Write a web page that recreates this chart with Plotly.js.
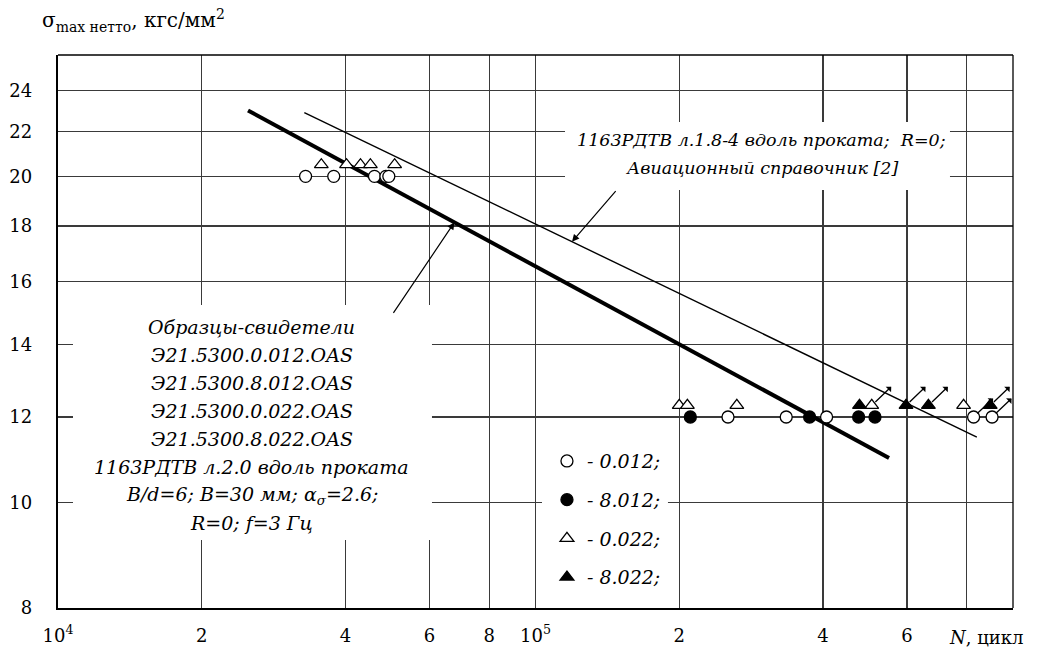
<!DOCTYPE html>
<html><head><meta charset="utf-8">
<script src="https://cdn.plot.ly/plotly-3.0.1.min.js"></script>
<style>html,body{margin:0;padding:0;background:#fff}#chart{width:1054px;height:649px}</style>
</head><body><div id="chart"></div>
<script>
// ---- data (N, cycles ; sigma max net, kgf/mm2) ----
const circOpenN  = [3.30e4, 3.78e4, 4.60e4, 4.86e4, 4.93e4, 2.53e5, 3.35e5, 4.07e5, 8.27e5, 9.04e5];
const circOpenS  = [20, 20, 20, 20, 20, 12, 12, 12, 12, 12];
const circOpenRun = [0, 0, 0, 0, 0, 0, 0, 0, 1, 1];

const circFillN  = [2.11e5, 3.75e5, 4.75e5, 5.14e5];
const circFillS  = [12, 12, 12, 12];
const circFillRun = [0, 0, 0, 0];

const triOpenN   = [3.56e4, 4.02e4, 4.30e4, 4.51e4, 5.07e4, 2.00e5, 2.08e5, 2.64e5, 5.06e5, 7.88e5];
const triOpenS   = [20.5, 20.5, 20.5, 20.5, 20.5, 12.3, 12.3, 12.3, 12.3, 12.3];
const triOpenRun = [0, 0, 0, 0, 0, 0, 0, 0, 1, 0];

const triFillN   = [4.77e5, 5.97e5, 6.65e5, 8.96e5];
const triFillS   = [12.3, 12.3, 12.3, 12.3];
const triFillRun = [0, 1, 1, 1];

const seriesNames = ['- 0.012;', '- 8.012;', '- 0.022;', '- 8.022;'];

// fatigue curves
const samplesLineN  = [2.5e4, 5.5e5];
const samplesLineS  = [23, 11];
const handbookLineN = [3.28e4, 8.4e5];
const handbookLineS = [22.9, 11.5];

// axes
const xTickVals = [1e4, 2e4, 4e4, 6e4, 8e4, 1e5, 2e5, 4e5, 6e5, 8e5];
const xTickText = ['10<sup>4</sup>', '2', '4', '6', '8', '10<sup>5</sup>', '2', '4', '6', ''];
const yTickVals = [8, 10, 12, 14, 16, 18, 20, 22, 24];
const yTickText = ['8', '10', '12', '14', '16', '18', '20', '22', '24'];

const textSamplesLines = ['Образцы-свидетели', 'Э21.5300.0.012.OAS', 'Э21.5300.8.012.OAS',
  'Э21.5300.0.022.OAS', 'Э21.5300.8.022.OAS', '1163РДТВ л.2.0 вдоль проката',
  'B/d=6; B=30 мм; α<sub>σ</sub>=2.6;', 'R=0; f=3 Гц'];
const textHandbookLines = ['1163РДТВ л.1.8-4 вдоль проката;  R=0;', 'Авиационный справочник [2]'];

// ---- build ----
const FONT = 'DejaVu Serif';
const L = Math.log10;
const PLOT_T = 55, PLOT_H = 553;
const py = (px) => (PLOT_T + PLOT_H - px) / PLOT_H;   // pixel row -> paper y

function markerTrace(N, S, name, symbol, fill, group) {
  return {
    x: N, y: S, type: 'scatter', mode: 'markers', name: name,
    legendgroup: group,
    marker: {symbol: symbol, size: 12, color: fill, line: {color: '#000', width: 1.3}},
    hoverinfo: 'x+y'
  };
}
function lineTrace(N, S, w) {
  return {x: N, y: S, type: 'scatter', mode: 'lines', showlegend: false,
          line: {color: '#000', width: w}, hoverinfo: 'skip'};
}
// point along a log-log line at fraction t
function alongLine(N, S, t) {
  return {x: L(N[0]) + t * (L(N[1]) - L(N[0])), y: L(S[0]) + t * (L(S[1]) - L(S[0]))};
}

const traces = [
  lineTrace(handbookLineN, handbookLineS, 1.4),
  lineTrace(samplesLineN, samplesLineS, 4),
  markerTrace(circOpenN, circOpenS, seriesNames[0], 'circle', '#fff', 'g1'),
  markerTrace(circFillN, circFillS, seriesNames[1], 'circle', '#000', 'g2'),
  markerTrace(triOpenN, triOpenS, seriesNames[2], 'triangle-up', '#fff', 'g3'),
  markerTrace(triFillN, triFillS, seriesNames[3], 'triangle-up', '#000', 'g4')
];

const annotations = [];
// run-out arrows
[[circOpenN, circOpenS, circOpenRun], [circFillN, circFillS, circFillRun],
 [triOpenN, triOpenS, triOpenRun], [triFillN, triFillS, triFillRun]].forEach(([N, S, R]) => {
  N.forEach((n, i) => {
    if (!R[i]) return;
    annotations.push({x: L(n), y: L(S[i]), xref: 'x', yref: 'y', text: '', showarrow: true,
      ax: 21, ay: -20, axref: 'pixel', ayref: 'pixel', arrowside: 'start', standoff: 5,
      arrowhead: 2, arrowsize: 1.35, arrowwidth: 1.3, arrowcolor: '#000'});
  });
});

// callouts
const pS = alongLine(samplesLineN, samplesLineS, 0.322);
const pH = alongLine(handbookLineN, handbookLineS, 0.398);
annotations.push({x: pS.x, y: pS.y, xref: 'x', yref: 'y', text: '', showarrow: true,
  ax: -62, ay: 92, arrowhead: 2, arrowsize: 1.2, arrowwidth: 1.2, arrowcolor: '#000'});
annotations.push({x: pH.x, y: pH.y, xref: 'x', yref: 'y', text: '', showarrow: true,
  ax: 45, ay: -52, arrowhead: 2, arrowsize: 1.2, arrowwidth: 1.2, arrowcolor: '#000'});

textSamplesLines.forEach((t, i) => {
  annotations.push({xref: 'paper', yref: 'paper', x: 0.2031, y: py(327 + 28 * i), xanchor: 'center', yanchor: 'middle',
    text: t, showarrow: false, font: {family: FONT, size: 19, color: '#000', style: 'italic'}});
});
textHandbookLines.forEach((t, i) => {
  annotations.push({xref: 'paper', yref: 'paper', x: 0.737, y: py(140 + 28 * i), xanchor: 'center', yanchor: 'middle',
    text: t, showarrow: false, font: {family: FONT, size: 17.5, color: '#000', style: 'italic'}});
});

// axis titles
annotations.push({xref: 'paper', yref: 'paper', x: -0.0188, y: py(20), xanchor: 'left', yanchor: 'middle',
  text: 'σ<sub>max нетто</sub>, кгс/мм<sup>2</sup>', showarrow: false, font: {family: FONT, size: 20, color: '#000'}});
annotations.push({xref: 'paper', yref: 'paper', x: 0.9717, y: py(637), xanchor: 'center', yanchor: 'middle',
  text: '<i>N</i>, цикл', showarrow: false, font: {family: FONT, size: 18, color: '#000'}});

const whiteBox = (x0, x1, y0, y1) => ({type: 'rect', xref: 'paper', yref: 'paper', x0, x1, y0, y1,
  fillcolor: '#fff', line: {width: 0}, layer: 'above'});

const layout = {
  width: 1054, height: 649,
  margin: {l: 58, r: 41, t: 55, b: 41},
  paper_bgcolor: '#fff', plot_bgcolor: '#fff',
  font: {family: FONT, size: 18, color: '#000'},
  showlegend: true,
  legend: {x: 0.512, y: 0.300, xanchor: 'left', yanchor: 'top', bgcolor: 'rgba(0,0,0,0)',
           font: {family: FONT, size: 19, color: '#000', style: 'italic'},
           tracegroupgap: 11, itemwidth: 30},
  xaxis: {type: 'log', range: [4, 6], tickvals: xTickVals, ticktext: xTickText,
          showgrid: true, gridcolor: '#3a3a3a', gridwidth: 1.2, zeroline: false,
          showline: true, linecolor: '#000', linewidth: 2.2, ticks: '',
          ticklabelstandoff: 10, tickfont: {family: FONT, size: 18, color: '#000'}, fixedrange: true},
  yaxis: {type: 'log', range: [L(8), 1.4129], tickvals: yTickVals, ticktext: yTickText,
          showgrid: true, gridcolor: '#3a3a3a', gridwidth: 1.2, zeroline: false,
          showline: true, linecolor: '#000', linewidth: 2.2, ticks: '',
          ticklabelstandoff: 20, tickfont: {family: FONT, size: 18, color: '#000'}, fixedrange: true},
  shapes: [
    {type: 'line', xref: 'paper', yref: 'paper', x0: 0, x1: 1, y0: 1, y1: 1, line: {color: '#000', width: 1.3}},
    {type: 'line', xref: 'paper', yref: 'paper', x0: 1, x1: 1, y0: 0, y1: 1, line: {color: '#000', width: 1.3}},
    whiteBox(0.0157, 0.3916, 0.123, 0.5479),
    whiteBox(0.5309, 0.9340, 0.7559, 0.8788),
    whiteBox(0.5068, 0.6387, 0.006, 0.3038)
  ],
  annotations: annotations
};

Plotly.newPlot('chart', traces, layout, {displayModeBar: false, staticPlot: true});
</script></body></html>
